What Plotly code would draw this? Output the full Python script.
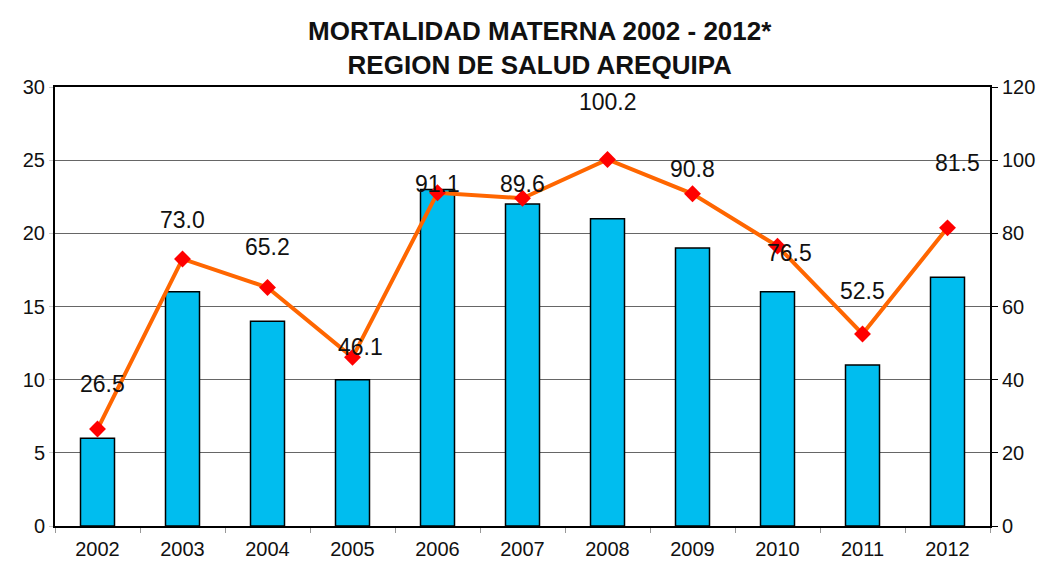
import plotly.graph_objects as go

years = ["2002", "2003", "2004", "2005", "2006", "2007", "2008", "2009", "2010", "2011", "2012"]
deaths = [6, 16, 14, 10, 23, 22, 21, 19, 16, 11, 17]
rate = [26.5, 73.0, 65.2, 46.1, 91.1, 89.6, 100.2, 90.8, 76.5, 52.5, 81.5]
label_yshift = [45, 39, 40, 10, 9, 14, 57, 25, -7, 43, 65]
label_xshift = [5, 0, 0, 8, 0, 0, 0, 0, 12, 0, 10]

FONT = "Liberation Sans, Arial"

fig = go.Figure()
fig.add_trace(go.Bar(
    x=years, y=deaths, width=0.4,
    marker=dict(color="#00BDEF", line=dict(color="#000000", width=1.5)),
    yaxis="y", showlegend=False,
))
fig.add_trace(go.Scatter(
    x=years, y=rate, mode="lines+markers",
    line=dict(color="#FF6600", width=4),
    marker=dict(symbol="diamond", color="#FF0000", size=13),
    yaxis="y2", showlegend=False,
))
for i, (v, dy, dx) in enumerate(zip(rate, label_yshift, label_xshift)):
    fig.add_annotation(x=i, y=v, xref="x", yref="y2", text=f"{v:.1f}", showarrow=False,
                       yshift=dy, xshift=dx,
                       font=dict(family=FONT, size=23, color="#111111"))

fig.update_layout(
    width=1048, height=561,
    margin=dict(l=55, r=58, t=87, b=35),
    paper_bgcolor="white", plot_bgcolor="white",
    title=dict(text="<b>MORTALIDAD MATERNA 2002 - 2012*<br>REGION DE SALUD AREQUIPA</b>",
               x=0.515, xanchor="center", y=0.929, yanchor="middle",
               font=dict(family=FONT, size=26, color="#111111")),
    font=dict(family=FONT, size=20, color="#111111"),
    xaxis=dict(type="category", range=[-0.5, len(years) - 0.5], showline=True,
               linecolor="black", linewidth=2, mirror=True, automargin=False,
               ticks="outside", tickson="boundaries", ticklen=5, tickcolor="#999999",
               tickfont=dict(size=20), tickangle=0, ticklabelstandoff=4),
    yaxis=dict(range=[0, 30], dtick=5, showgrid=True, gridcolor="#666666", gridwidth=1,
               showline=True, linecolor="black", linewidth=2, ticks="outside", ticklen=4,
               tickcolor="#cccccc", zeroline=False, tickfont=dict(size=20), automargin=False),
    yaxis2=dict(range=[0, 120], dtick=20, overlaying="y", side="right", showgrid=False,
                showline=True, linecolor="black", linewidth=2, ticks="outside", ticklen=6,
                tickcolor="black", zeroline=False, tickfont=dict(size=20), automargin=False),
    bargap=0.6,
)
fig.write_html("out.html", config={"displayModeBar": False},
               post_script="document.body.style.margin='0';")
